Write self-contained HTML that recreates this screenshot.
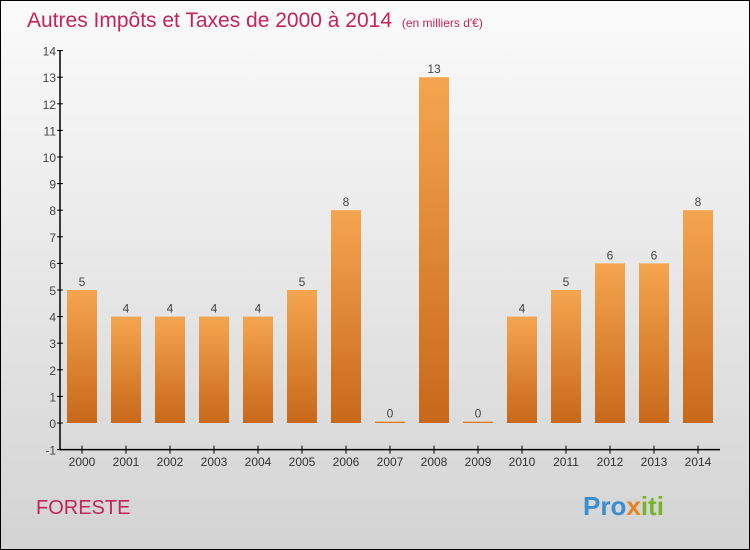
<!DOCTYPE html>
<html><head><meta charset="utf-8"><style>
body{margin:0}
svg{display:block;font-family:"Liberation Sans",sans-serif}
</style></head><body>
<svg width="750" height="550" viewBox="0 0 750 550">
<defs>
<linearGradient id="bg" x1="0" y1="0" x2="0" y2="1"><stop offset="0" stop-color="#fbfbfb"/><stop offset="1" stop-color="#d3d3d3"/></linearGradient>
<linearGradient id="bar" x1="0" y1="0" x2="0" y2="1"><stop offset="0" stop-color="#f5a54f"/><stop offset="1" stop-color="#c8681a"/></linearGradient>
</defs>
<rect x="0.5" y="0.5" width="749" height="549" fill="url(#bg)" stroke="#000"/>
<text x="27" y="27" font-size="21" fill="#c4245a">Autres Impôts et Taxes de 2000 à 2014 <tspan font-size="12" dx="4">(en milliers d'€)</tspan></text>
<g id="axes"></g>
<g id="bars"></g>
<text x="36" y="514" font-size="20" fill="#c4245a">FORESTE</text>
<text x="583" y="515" font-size="26" font-weight="bold"><tspan fill="#3a8fd0">Pro</tspan><tspan fill="#e8841a">x</tspan><tspan fill="#7ab32e">iti</tspan></text>
</svg>
<script>
const years=["2000","2001","2002","2003","2004","2005","2006","2007","2008","2009","2010","2011","2012","2013","2014"];
const values=[5,4,4,4,4,5,8,0,13,0,4,5,6,6,8];
const yTicks=[-1,0,1,2,3,4,5,6,7,8,9,10,11,12,13,14];
const NS="http://www.w3.org/2000/svg";
const y=v=>423-v*26.6;
const x=i=>82+i*44;
function mk(t,a,p){const e=document.createElementNS(NS,t);for(const k in a)e.setAttribute(k,a[k]);p.appendChild(e);return e;}
const ax=document.getElementById('axes'),bg=document.getElementById('bars');
let l=mk('line',{x1:60,y1:y(14),x2:60,y2:y(-1),stroke:'#000','stroke-width':1.5},ax);


l=mk('line',{x1:60,y1:y(-1),x2:720,y2:y(-1),stroke:'#000','stroke-width':1.5},ax);


yTicks.forEach(v=>{
 mk('line',{x1:57,x2:63,y1:y(v),y2:y(v),stroke:'#000'},ax);
 const t=mk('text',{x:56,y:y(v)+5,'font-size':12,fill:'#444','text-anchor':'end'},ax);
 t.textContent=v;
 
 
});
years.forEach((yr,i)=>{
 mk('line',{x1:x(i),x2:x(i),y1:y(-1)-4,y2:y(-1)+4,stroke:'#000'},ax);
 const t=mk('text',{x:x(i),y:466,'font-size':12,fill:'#333','text-anchor':'middle'},ax);
 t.textContent=yr;
 
 
 const v=values[i];
 const top=y(v),h=Math.max(y(0)-top,1.5);
 const r=mk('rect',{x:x(i)-15,y:y(0)-h,width:30,height:h,fill:'url(#bar)'},bg);
 
 
 const vl=mk('text',{x:x(i),y:y(0)-h-4,'font-size':12,fill:'#444','text-anchor':'middle'},bg);
 vl.textContent=v;
 
 
});
</script>
</body></html>
